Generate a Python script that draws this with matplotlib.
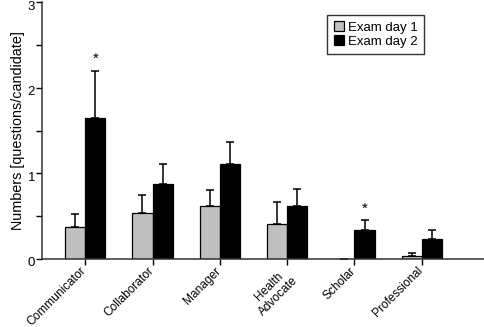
import matplotlib
matplotlib.use('Agg')
import matplotlib.pyplot as plt
import matplotlib.transforms as mtransforms
import numpy as np

plt.rcParams['font.family'] = ['Liberation Sans', 'DejaVu Sans']

# data
categories = ['Communicator', 'Collaborator', 'Manager', 'Health\nAdvocate', 'Scholar', 'Professional']
day1_mean = [0.37, 0.54, 0.62, 0.41, 0.0, 0.04]
day1_err = [0.15, 0.21, 0.18, 0.25, 0.0, 0.03]
day2_mean = [1.65, 0.88, 1.11, 0.62, 0.34, 0.23]
day2_err = [0.55, 0.23, 0.25, 0.20, 0.11, 0.11]
significant = [True, False, False, False, True, False]

x = np.arange(len(categories))
w = 0.30

fig = plt.figure(figsize=(4.85, 3.27), dpi=100)
ax = fig.add_axes([42 / 485, 1 - 259 / 327, 1 - 42 / 485, 257 / 327])

err_kw = dict(elinewidth=1.1, capsize=3.0, capthick=1.1, ecolor='black')
ax.bar(x - w / 2, day1_mean, w, color='#c0c0c0', edgecolor='black', linewidth=0.9,
       yerr=[np.zeros(len(x)), day1_err], error_kw=err_kw, label='Exam day 1', zorder=2)
ax.bar(x + w / 2, day2_mean, w, color='black', edgecolor='black', linewidth=0.9,
       yerr=[np.zeros(len(x)), day2_err], error_kw=err_kw, label='Exam day 2', zorder=2)

# significance stars
for i, sig in enumerate(significant):
    if sig:
        top = day2_mean[i] + day2_err[i]
        ax.text(x[i] + w / 2, top + 0.05, '*', ha='center', va='bottom', fontsize=11)

ax.set_xlim(-0.643, 5.94)
ax.set_ylim(0, 3)
ax.set_yticks([0, 1, 2, 3])
ax.set_yticks([0.5, 1.5, 2.5], minor=True)
ax.tick_params(axis='y', which='both', length=4, width=1, pad=1, labelsize=9.5)
ax.tick_params(axis='x', length=4, width=1, pad=2)
ax.set_xticks(x)
ax.set_xticklabels(categories, rotation=45, ha='right', va='top', rotation_mode='anchor',
                   fontsize=8.6, multialignment='center')
# nudge rotated labels so their ends sit under the ticks
shift = mtransforms.ScaledTranslation(-5 / 100, 2.5 / 100, fig.dpi_scale_trans)
for lbl in ax.get_xticklabels():
    lbl.set_transform(lbl.get_transform() + shift)
# y labels sit a little below their ticks in the original
yshift = mtransforms.ScaledTranslation(0, -3 / 100, fig.dpi_scale_trans)
for lbl in ax.get_yticklabels():
    lbl.set_transform(lbl.get_transform() + yshift)
ax.set_ylabel('Numbers [questions/candidate]', fontsize=10.4, labelpad=2)

for s in ['top', 'right']:
    ax.spines[s].set_visible(False)
for s in ['left', 'bottom']:
    ax.spines[s].set_linewidth(1.1)
    ax.spines[s].set_color('#333333')

leg = ax.legend(loc='upper left', bbox_to_anchor=(327 / 485, 1 - 14.7 / 327),
                bbox_transform=fig.transFigure, fontsize=9.5, frameon=True,
                fancybox=False, handlelength=0.8, handleheight=0.8,
                handletextpad=0.3, borderpad=0.5, labelspacing=0.1, borderaxespad=0)
leg.get_frame().set_edgecolor('black')
leg.get_frame().set_linewidth(1.0)

fig.savefig('out.png', dpi=100)
